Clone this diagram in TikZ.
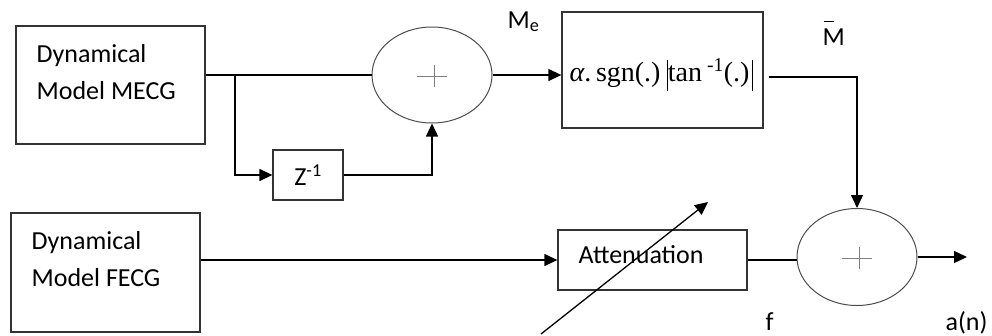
\documentclass[tikz,border=0pt]{standalone}
\usepackage{fontspec}
\setmainfont{Carlito}
\newfontfamily\formulafont{Liberation Serif}
\usetikzlibrary{positioning,arrows.meta,shapes.geometric,calc}

\begin{document}
\begin{tikzpicture}[
  x=1pt, y=-1pt,
  >={Triangle[length=13pt,width=12pt]},
  font=\fontsize{26}{37}\selectfont,
  line width=1.3pt,
  block/.style={draw=black!80,line width=1.3pt,inner sep=0pt},
  adder/.style={ellipse,draw=black!70,line width=1pt,inner sep=0pt,
    minimum width=120pt,minimum height=96pt},
  lbl/.style={inner sep=0pt,anchor=base west,align=left}
]
  \useasboundingbox (0,0) rectangle (992,335);

  % blocks
  \node[block,minimum width=189pt,minimum height=118pt] (mecg) at (110.5,85) {};
  \node[block,minimum width=189pt,minimum height=119pt] (fecg) at (105.5,272.5) {};
  \node[block,minimum width=70pt,minimum height=50pt] (zinv) at (308,175) {Z\textsuperscript{-1}};
  \node[block,minimum width=201pt,minimum height=116pt] (nonlin) at (662.5,70) {};
  \node[block,minimum width=189pt,minimum height=60pt] (att) at (652.5,260) {};
  \node[adder] (sum1) at (432,75) {};
  \node[adder,minimum height=97pt] (sum2) at (857,257) {};

  % texts in blocks (base = last line)
  \node[lbl] (mecgtxt) at (36,99) {Dynamical\\Model MECG};
  \node[lbl] (fecgtxt) at (31,286) {Dynamical\\Model FECG};
  \node[lbl] (atttxt) at (578,263) {Attenuation};
  \node[lbl] (nonlintxt) at (569,81) {\formulafont\fontsize{28}{28}\selectfont
    \textit{α}.\,sgn(.)\hspace{6pt}\raisebox{-10pt}{\rule{1.3pt}{31pt}}tan\hspace{5pt}\textsuperscript{-1}(.)\hspace{2pt}\raisebox{-10pt}{\rule{1.3pt}{31pt}}};

  % plus signs
  \foreach \s in {sum1,sum2}
    \draw[black!50,line width=0.8pt] ($(\s)+(-15,1)$) -- ($(\s)+(15,1)$)
      ($(\s)+(2,-10)$) -- ($(\s)+(2,12)$);

  % signal labels
  \node[lbl] (me) at (507,28) {M\textsubscript{e}};
  \node[lbl] (mbar) at (822,45) {\rlap{\hspace{1pt}\rule[23pt]{10pt}{1.5pt}}M};
  \node[lbl] (flbl) at (765,330) {f};
  \node[lbl] (an) at (945,330) {a(n)};

  % connectors
  \coordinate (split) at (235,75);
  \coordinate (out) at (967,257);
  \coordinate (knobtail) at (541,334);
  \coordinate (knobtip) at (708,202);
  \draw (mecg.east |- sum1.west) -- (sum1.west);
  \draw[->] (split) |- (zinv.west);
  \draw[->] (zinv.east) -| (sum1.south);
  \draw[->] (sum1.east) -- (sum1.east -| nonlin.west);
  \draw[->] ($(nonlin.east)+(5,7)$) -| (sum2.north);
  \draw[->] (fecg.east |- att.west) -- (att.west);
  \draw (att.east) -- (att.east -| sum2.west);
  \draw[->] (sum2.east) -- (out);
  \draw[->] (knobtail) -- (knobtip);
\end{tikzpicture}
\end{document}
